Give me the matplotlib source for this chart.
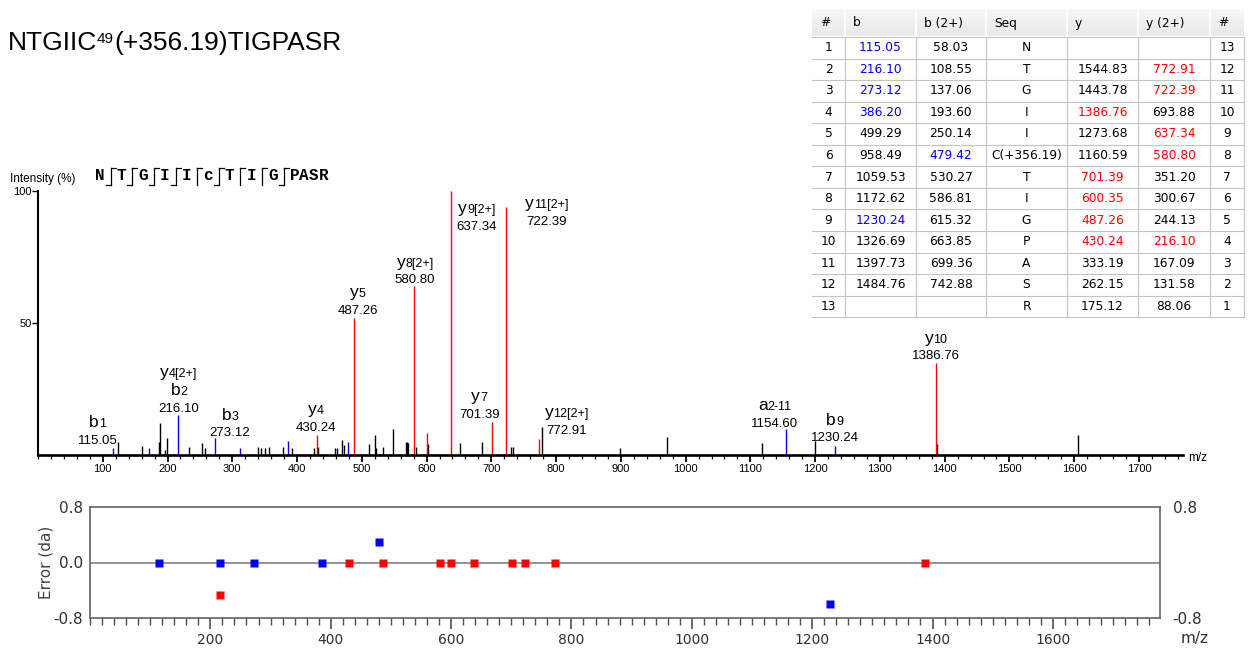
import matplotlib
matplotlib.use('Agg')
import matplotlib.pyplot as plt
import numpy as np
from matplotlib.offsetbox import TextArea, HPacker, AnnotationBbox
from matplotlib.patches import Rectangle
from matplotlib.ticker import FixedLocator, MultipleLocator

plt.rcParams['font.family'] = ['Liberation Sans', 'DejaVu Sans']
plt.rcParams['axes.unicode_minus'] = False

W, H = 1260, 653
BLUE, RED = '#0000ff', '#ff0000'

# peptide
title_head = 'NTGIIC'
title_site = '49'
title_tail = '(+356.19)TIGPASR'
residues = ['N', 'T', 'G', 'I', 'I', 'c', 'T', 'I', 'G', 'P', 'A', 'S', 'R']

# fragment table (None = empty cell)
seq_col = ['N', 'T', 'G', 'I', 'I', 'C(+356.19)', 'T', 'I', 'G', 'P', 'A', 'S', 'R']
b_mass = [115.05, 216.10, 273.12, 386.20, 499.29, 958.49, 1059.53, 1172.62,
          1230.24, 1326.69, 1397.73, 1484.76, None]
b2_mass = [58.03, 108.55, 137.06, 193.60, 250.14, 479.42, 530.27, 586.81,
           615.32, 663.85, 699.36, 742.88, None]
y_mass = [None, 1544.83, 1443.78, 1386.76, 1273.68, 1160.59, 701.39, 600.35,
          487.26, 430.24, 333.19, 262.15, 175.12]
y2_mass = [None, 772.91, 722.39, 693.88, 637.34, 580.80, 351.20, 300.67,
           244.13, 216.10, 167.09, 131.58, 88.06]
# table rows whose value was matched in the spectrum
b_found = [1, 2, 3, 4, 9]
b2_found = [6]
y_found = [4, 7, 8, 9, 10]
y2_found = [2, 3, 5, 6, 10]

# labelled peaks
lab_mz = [115.05, 216.10, 273.12, 430.24, 487.26, 580.80, 637.34, 701.39,
          722.39, 772.91, 1154.60, 1230.24, 1386.76]
lab_int = [2.7, 15.2, 6.4, 7.6, 52.0, 64.0, 100.0, 12.6, 94.0, 6.2, 10.0, 3.4, 34.7]
lab_kind = ['b', 'b', 'b', 'y', 'y', 'y', 'y', 'y', 'y', 'y', 'b', 'b', 'y']
lab_names = [[('b', '1')], [('y', '4[2+]'), ('b', '2')], [('b', '3')], [('y', '4')],
             [('y', '5')], [('y', '8[2+]')], [('y', '9[2+]')], [('y', '7')],
             [('y', '11[2+]')], [('y', '12[2+]')], [('a', '2-11')], [('b', '9')],
             [('y', '10')]]

# matched peaks without a label
bpk_mz = [171.1, 311.2, 386.20, 479.42]
bpk_int = [2.6, 2.5, 5.3, 5.0]
ypk_mz = [600.35]
ypk_int = [8.4]

# unassigned peaks
other_mz = [124, 161, 187, 189, 196, 199, 233, 254, 258, 339, 344, 351, 356,
            378, 392, 426, 432, 458, 462, 470, 472, 511, 520, 522, 532, 548,
            568, 570, 572, 583, 602, 651, 685, 731, 733, 778, 898, 971, 1118,
            1200, 1388, 1606]
other_int = [5.0, 3.4, 5.0, 12.0, 2.0, 6.4, 3.0, 4.5, 2.5, 3.0, 2.5, 2.5, 3.0,
             3.0, 2.8, 2.5, 3.0, 2.5, 2.5, 5.7, 3.8, 4.0, 7.6, 2.5, 3.0, 9.7,
             5.0, 5.0, 4.5, 3.0, 4.0, 4.5, 5.0, 3.0, 3.0, 10.5, 2.8, 6.7, 4.4,
             5.3, 4.0, 7.6]

# mass error (Da)
err_b_mz = [115.05, 216.10, 273.12, 386.20, 479.42, 1230.24]
err_b = [0.0, 0.0, 0.0, 0.0, 0.29, -0.60]
err_y_mz = [216.10, 430.24, 487.26, 580.80, 600.35, 637.34, 701.39, 722.39,
            772.91, 1386.76]
err_y = [-0.47, 0.0, 0.0, 0.0, 0.0, 0.0, 0.0, 0.0, 0.0, 0.0]

# label offsets in pixels (value text centre relative to peak top)
lab_dx = [-15, 1, 15, -1, 4, 1, 26, -13, 41, 28, -11, 0, 0]
lab_dy = [7, 6, 5, 7, 7, 6, -36, 7, -15, 8, 5, 8, 7]


def box(px_l, px_t, px_r, px_b):
    return [px_l / W, 1 - px_b / H, (px_r - px_l) / W, (px_b - px_t) / H]


fig = plt.figure(figsize=(W / 100, H / 100), dpi=100)

# ---- spectrum ----
ax = fig.add_axes(box(38, 191, 1183, 455))
ax.vlines(other_mz, 0, other_int, colors='black', lw=1.0)
ax.vlines(bpk_mz, 0, bpk_int, colors=BLUE, lw=1.0)
ax.vlines(ypk_mz, 0, ypk_int, colors=RED, lw=1.0)
ax.vlines(lab_mz, 0, lab_int, colors=[BLUE if k == 'b' else RED for k in lab_kind], lw=1.0)
ax.set_xlim(0, 1768)
ax.set_ylim(0, 100)
for s in ['top', 'right']:
    ax.spines[s].set_visible(False)
ax.spines['left'].set_linewidth(1.5)
ax.spines['bottom'].set_linewidth(1.9)
ax.xaxis.set_major_locator(FixedLocator(np.arange(100, 1800, 100)))
ax.xaxis.set_minor_locator(MultipleLocator(20))
ax.set_yticks([50, 100])
ax.tick_params(axis='x', which='major', length=5, width=1.3, labelsize=8, pad=1.5)
ax.tick_params(axis='x', which='minor', length=3, width=0.9)
ax.tick_params(axis='y', length=4, width=1.0, labelsize=8, pad=0.5)

for mz, inten, names, dx, dy in zip(lab_mz, lab_int, lab_names, lab_dx, lab_dy):
    val = TextArea(f'{mz:.2f}', textprops=dict(size=9.5))
    ax.add_artist(AnnotationBbox(val, (mz, inten), xybox=(dx, dy), xycoords='data',
                                 boxcoords='offset pixels', frameon=False, pad=0,
                                 box_alignment=(0.5, 0.5), annotation_clip=False))
    for k, (ion, sub) in enumerate(reversed(names)):
        pack = HPacker(children=[TextArea(ion, textprops=dict(size=12.5)),
                                 TextArea(sub, textprops=dict(size=9))],
                       align='baseline', pad=0, sep=0)
        ax.add_artist(AnnotationBbox(pack, (mz, inten), xybox=(dx, dy + 18 * (k + 1)),
                                     xycoords='data', boxcoords='offset pixels',
                                     frameon=False, pad=0, box_alignment=(0.5, 0.5),
                                     annotation_clip=False))

fig.text(10 / W, 1 - 179 / H, 'Intensity (%)', size=8.5, va='center', ha='left')
fig.text(1188 / W, 1 - 458 / H, 'm/z', size=8.5, va='center', ha='left')

# ---- error plot ----
ex = fig.add_axes(box(90, 507, 1160, 618))
ex.axhline(0, color='#8a8a8a', lw=1.3, zorder=1)
ex.plot(err_b_mz, err_b, 's', color=BLUE, ms=6, mec='none', zorder=3)
ex.plot(err_y_mz, err_y, 's', color=RED, ms=6, mec='none', zorder=3)
ex.set_xlim(0, 1778)
ex.set_ylim(-0.8, 0.8)
for s in ex.spines.values():
    s.set_color('#6e6e6e')
    s.set_linewidth(1.3)
ex.xaxis.set_major_locator(FixedLocator(np.arange(200, 1800, 200)))
ex.xaxis.set_minor_locator(MultipleLocator(20))
ex.set_yticks([-0.8, 0.0, 0.8])
ex.set_yticklabels(['-0.8', '0.0', '0.8'], family='DejaVu Sans')
ex.tick_params(axis='x', which='major', length=8, width=1.2, color='#505050',
               labelsize=10, pad=3, labelcolor='#303030')
ex.tick_params(axis='x', which='minor', length=5, width=1.0, color='#505050')
ex.tick_params(axis='y', length=0, labelsize=11, pad=5, labelcolor='#303030')
for t in ex.get_xticklabels():
    t.set_family('DejaVu Sans')
ex.set_ylabel('Error (da)', family='DejaVu Sans', size=11, color='#404040', labelpad=0)
ex2 = ex.twinx()
ex2.set_ylim(-0.8, 0.8)
ex2.set_yticks([-0.8, 0.8])
ex2.set_yticklabels(['-0.8', '0.8'], family='DejaVu Sans')
ex2.tick_params(axis='y', length=0, labelsize=11, pad=9, labelcolor='#303030')
for s in ex2.spines.values():
    s.set_visible(False)
fig.text(1195 / W, 1 - 638 / H, 'm/z', family='DejaVu Sans', size=11,
         color='#303030', va='center', ha='center')

# ---- overlay in pixel coordinates: title, sequence map, table ----
ov = fig.add_axes([0, 0, 1, 1])
ov.set_xlim(0, W)
ov.set_ylim(H, 0)
ov.axis('off')

ov.text(8, 50, title_head, size=19, ha='left', va='baseline')
ov.text(97, 43, title_site, size=11, ha='left', va='baseline')
ov.text(114, 50, title_tail, size=19, ha='left', va='baseline')

# fragmentation map
cut_b = [(i in b_found) or (i in b2_found) for i in range(1, 13)]
cut_y = [((i + 1) in y_found) or ((i + 1) in y2_found) for i in range(1, 13)]
xpos = []
x = 100
for i, r in enumerate(residues):
    xpos.append(x)
    x += 9.6
    if i < 12 and (cut_b[i] or cut_y[i]):
        x += 12
for i, r in enumerate(residues):
    ov.text(xpos[i], 176, r, family='Liberation Mono', weight='bold', size=11.5,
            ha='center', va='center')
for i in range(12):
    if not (cut_b[i] or cut_y[i]):
        continue
    mx = (xpos[i] + xpos[i + 1]) / 2
    ov.plot([mx, mx], [168, 185], color='black', lw=0.9)
    if cut_b[i]:
        ov.plot([mx - 5, mx], [185, 185], color='black', lw=0.9)
    if cut_y[i]:
        ov.plot([mx, mx + 5], [168, 168], color='black', lw=0.9)

# table
col_edges = [812, 845, 916, 986, 1067, 1138, 1210, 1244]
head_top, row_top, row_h = 9, 37, 21.55
n_rows = len(seq_col)
tab_bot = row_top + row_h * n_rows
ov.add_patch(Rectangle((col_edges[0], head_top), col_edges[-1] - col_edges[0],
                       tab_bot - head_top, facecolor='white', edgecolor='none', zorder=4))
grad = np.linspace(0.97, 0.91, 32)[:, None] * np.ones((32, 2))
ov.imshow(grad, cmap='gray', vmin=0, vmax=1, aspect='auto', zorder=5,
          extent=(col_edges[0], col_edges[-1], row_top - 1, head_top))
ov.set_xlim(0, W)
ov.set_ylim(H, 0)
for xe in col_edges[1:-1]:
    ov.plot([xe, xe], [head_top, row_top - 1], color='white', lw=1.4, zorder=6)
    ov.plot([xe, xe], [row_top, tab_bot], color='#c4c4c4', lw=0.8, zorder=6)
ov.plot([col_edges[-1], col_edges[-1]], [row_top, tab_bot], color='#c4c4c4', lw=0.8, zorder=6)
for k in range(n_rows + 1):
    yy = row_top + row_h * k
    ov.plot([col_edges[0], col_edges[-1]], [yy, yy], color='#c4c4c4', lw=0.8, zorder=6)

head_txt = ['#', 'b', 'b (2+)', 'Seq', 'y', 'y (2+)', '#']
for xe, t in zip(col_edges[:-1], head_txt):
    ov.text(xe + 8, (head_top + row_top) / 2, t, family='DejaVu Sans', size=8.8,
            ha='left', va='center', zorder=7)

centres = [(a + b) / 2 for a, b in zip(col_edges[:-1], col_edges[1:])]
for r in range(n_rows):
    yc = row_top + row_h * (r + 0.5)
    row = r + 1
    cells = [(str(row), 'black'),
             ('' if b_mass[r] is None else f'{b_mass[r]:.2f}', BLUE if row in b_found else 'black'),
             ('' if b2_mass[r] is None else f'{b2_mass[r]:.2f}', BLUE if row in b2_found else 'black'),
             (seq_col[r], 'black'),
             ('' if y_mass[r] is None else f'{y_mass[r]:.2f}', RED if row in y_found else 'black'),
             ('' if y2_mass[r] is None else f'{y2_mass[r]:.2f}', RED if row in y2_found else 'black'),
             (str(n_rows + 1 - row), 'black')]
    for c, (t, col) in enumerate(cells):
        ov.text(centres[c], yc, t, family='DejaVu Sans', size=8.8, color=col,
                ha='center', va='center', zorder=7)

fig.savefig('out.png', dpi=100)
